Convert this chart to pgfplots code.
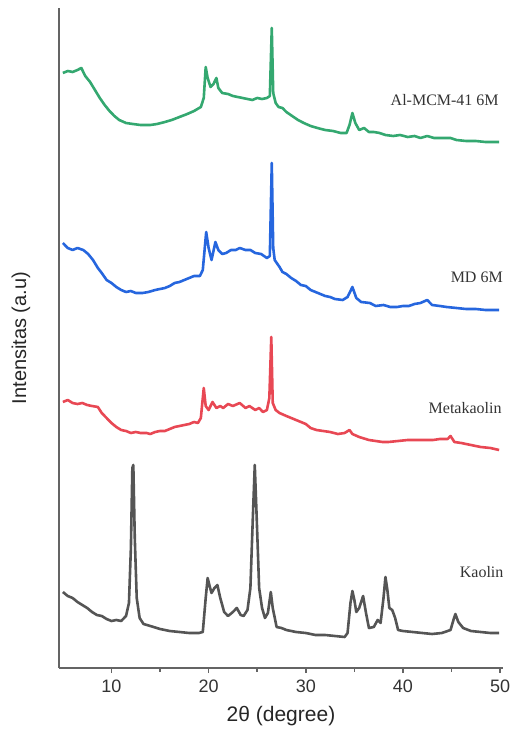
\documentclass[border=0pt]{standalone}
\usepackage{pgfplots}
\pgfplotsset{compat=1.18}
\usepackage{fontspec}
\setmainfont{Liberation Serif}
\setsansfont{Liberation Sans}
\definecolor{cgreen}{RGB}{52,168,112}
\definecolor{cblue}{RGB}{38,102,222}
\definecolor{cred}{RGB}{232,72,84}
\definecolor{cgray}{RGB}{85,85,85}
\definecolor{caxis}{RGB}{100,100,100}
\begin{document}
\begin{tikzpicture}
\begin{axis}[
  scale only axis, width=222pt, height=330pt,
  xmin=4.6, xmax=50.3, ymin=0, ymax=660,
  axis x line*=bottom, axis y line*=left,
  axis line style={caxis, line width=1.1pt},
  xtick={10,20,30,40,50}, minor x tick num=1,
  ytick=\empty,
  tick align=outside,
  major tick length=2.5pt, minor tick length=1.8pt,
  every tick/.style={caxis, line width=0.8pt},
  /pgf/number format/assume math mode=true,
  xticklabel style={font=\sffamily\fontsize{9}{10}\selectfont, text=black!80},
  xlabel={2θ (degree)},
  ylabel={Intensitas (a.u)},
  x label style={font=\sffamily\fontsize{10.5}{12}\selectfont, text=black!85, at={(axis description cs:0.5,0)}, anchor=center, yshift=-24pt},
  y label style={font=\sffamily\fontsize{10}{12}\selectfont, text=black!85, at={(axis description cs:0,0.5)}, anchor=center, yshift=19pt},
  clip=false,
]
% Kaolin
\addplot[cgray, line width=1.3pt, line join=round] coordinates {
(5.0,76)(5.5,72)(6.0,70)(6.5,66)(7.0,63)(7.5,60)(8.0,56)(8.5,53)(9.0,52)(9.5,49)(10.0,47)(10.5,48)(11.0,47)(11.5,52)(11.8,65)(12.0,120)(12.15,200)(12.25,203)(12.4,130)(12.6,70)(12.9,50)(13.3,44)(14,42)(15,39)(16,37)(17,36)(18,35)(19,35)(19.4,36)(19.7,70)(19.9,90)(20.1,82)(20.3,75)(20.6,80)(20.9,83)(21.2,70)(21.6,56)(22.0,52)(22.5,56)(22.9,60)(23.3,53)(23.6,52)(24.0,58)(24.3,80)(24.55,150)(24.75,203)(24.95,150)(25.2,80)(25.5,60)(25.8,50)(26.1,55)(26.4,76)(26.6,60)(27.0,41)(27.5,40)(28,38)(29,36)(30,35)(31,33)(32,33)(33,32)(34,31)(34.3,35)(34.6,65)(34.8,77)(35.0,68)(35.2,56)(35.5,60)(35.9,72)(36.2,55)(36.5,40)(37.0,41)(37.4,48)(37.7,45)(38.0,70)(38.2,91)(38.4,78)(38.6,60)(38.9,58)(39.2,50)(39.5,38)(40,37)(41,36)(42,35)(43,34)(44,35)(44.9,38)(45.2,48)(45.4,54)(45.7,46)(46.2,40)(47,37)(48,36)(49,35)(49.9,35)
};
% Metakaolin
\addplot[cred, line width=1.3pt, line join=round] coordinates {
(5.0,266)(5.5,268)(6.0,265)(6.5,264)(7.0,265)(7.5,263)(8.0,262)(8.6,261)(9.0,255)(9.5,250)(10.0,245)(10.5,241)(11,238)(11.5,237)(12,235)(12.5,236)(13,235)(13.6,235)(14,234)(14.5,236)(15,237)(15.5,237)(16,239)(16.5,241)(17,242)(17.5,243)(18,244)(18.5,246)(18.9,245)(19.2,250)(19.5,280)(19.7,262)(20.0,258)(20.4,266)(20.8,260)(21.2,262)(21.5,260)(22,264)(22.5,262)(23.2,265)(23.8,260)(24.2,262)(24.8,258)(25.2,260)(25.6,256)(26.0,258)(26.25,270)(26.45,331)(26.6,265)(26.9,258)(27.3,255)(28,252)(28.5,250)(29,248)(29.5,246)(30,244)(30.5,240)(31.1,238)(31.8,237)(32.5,236)(33.3,234)(34,235)(34.5,238)(34.8,234)(35.5,231)(36.5,228)(37.9,226)(38.5,226)(39.5,227)(40.5,228)(41.5,228)(42.5,228)(43.1,228)(43.8,229)(44.6,229)(44.9,232)(45.3,226)(46,225)(47,223)(48,221)(49,220)(49.9,218)
};
% MD 6M
\addplot[cblue, line width=1.3pt, line join=round] coordinates {
(5.0,425)(5.5,420)(6.0,418)(6.5,420)(7.1,418)(7.6,414)(8.1,408)(8.6,400)(9.0,395)(9.5,388)(10,385)(10.5,381)(11,378)(11.5,376)(12,377)(12.5,375)(13.2,375)(13.8,376)(14.5,378)(15,379)(15.5,380)(16,382)(16.5,385)(17,386)(17.5,388)(18,390)(18.5,392)(19.1,392)(19.4,398)(19.75,436)(20.0,420)(20.3,408)(20.7,426)(21.0,418)(21.4,414)(21.8,415)(22.3,418)(22.8,418)(23.2,420)(23.8,418)(24.3,418)(24.8,415)(25.4,414)(26.0,410)(26.3,412)(26.5,505)(26.65,420)(26.8,408)(27.3,401)(27.6,396)(28,394)(28.5,390)(29,387)(29.5,383)(30,382)(30.5,378)(31,376)(31.5,374)(32,372)(32.5,371)(33,369)(33.8,368)(34.3,371)(34.8,381)(35.2,370)(35.7,366)(36.6,365)(37.2,362)(38,363)(38.7,361)(39.4,361)(40,362)(40.6,362)(41.2,364)(41.8,365)(42.5,368)(43.0,363)(43.8,362)(44.5,361)(45.5,360)(46.5,359)(47.5,359)(48.5,358)(49.9,358)
};
% Al-MCM-41 6M
\addplot[cgreen, line width=1.3pt, line join=round] coordinates {
(5.0,595)(5.5,597)(6.0,596)(6.5,598)(6.9,600)(7.3,592)(7.8,586)(8.3,578)(8.8,570)(9.3,563)(9.8,557)(10.3,552)(10.8,548)(11.5,545)(12.2,544)(13,543)(14,543)(14.7,544)(15.5,546)(16.2,548)(17,551)(17.8,554)(18.5,557)(19.2,561)(19.5,570)(19.7,601)(19.9,590)(20.2,581)(20.5,584)(20.8,590)(21.0,580)(21.4,575)(22,574)(22.5,572)(23,571)(23.5,570)(24,569)(24.5,568)(25,570)(25.5,569)(26,570)(26.3,572)(26.5,640)(26.65,575)(26.9,565)(27.2,561)(27.6,560)(28,556)(28.6,552)(29.2,548)(29.8,545)(30.5,542)(31.2,540)(32,538)(32.8,537)(33.6,535)(34.2,535)(34.5,543)(34.8,555)(35.1,545)(35.5,538)(36,540)(36.5,536)(37,536)(37.6,535)(38.2,533)(39,532)(39.7,533)(40.5,531)(41.2,532)(41.8,530)(42.5,532)(43.2,530)(44,530)(44.9,530)(45.5,528)(46.5,527)(47.5,527)(48.5,526)(49.9,526)
};
\node[font=\rmfamily\fontsize{8}{9}\selectfont, text=black!80] at (axis cs:44.3,568) {Al-MCM-41 6M};
\node[font=\rmfamily\fontsize{8}{9}\selectfont, text=black!80] at (axis cs:47.6,391) {MD 6M};
\node[font=\rmfamily\fontsize{8}{9}\selectfont, text=black!80] at (axis cs:46.4,260) {Metakaolin};
\node[font=\rmfamily\fontsize{8}{9}\selectfont, text=black!80] at (axis cs:48.1,96) {Kaolin};
\end{axis}
\path (current axis.south west) ++(-29.5pt,-36pt) (current axis.north east) ++(3pt,4pt);
\end{tikzpicture}
\end{document}
